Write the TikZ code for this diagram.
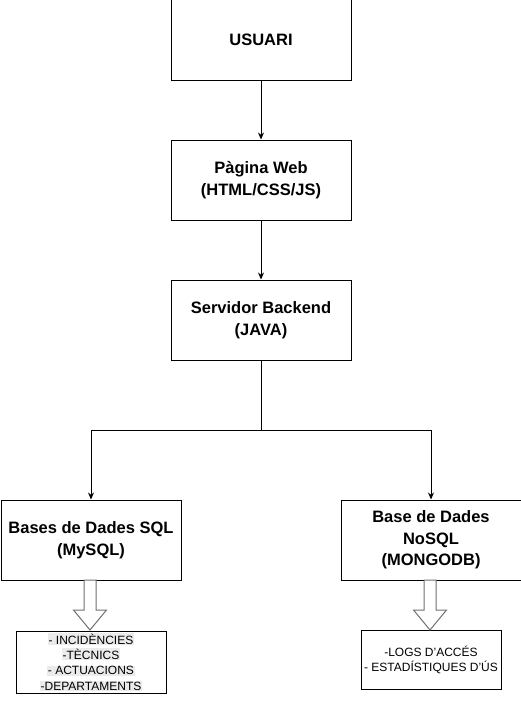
\documentclass[tikz,border=0pt]{standalone}
\usepackage{fontspec}
\setmainfont{Liberation Sans}
\usepackage{xcolor}
\usepackage{tikz}
\usetikzlibrary{arrows.meta}
\definecolor{hlgray}{HTML}{EBEBEB}
\definecolor{arrgray}{HTML}{707070}
\newcommand{\hl}[1]{{\setlength{\fboxsep}{0.6pt}\colorbox{hlgray}{#1}}}

\begin{document}
\begin{tikzpicture}[x=1pt,y=-1pt,line width=1pt,
  box/.style={draw,rectangle,inner sep=0,minimum width=180,minimum height=80,
    align=center,font=\bfseries\fontsize{16.5}{21.5}\selectfont},
  listbox/.style={draw,rectangle,inner sep=0,align=center,
    font=\fontsize{12}{15.3}\selectfont},
  flow/.style={-{Stealth[length=7pt,width=6pt]}},
  bigarrow/.style={draw=arrgray,fill=white,line width=1pt,line join=miter}]
	\useasboundingbox (0,0) rectangle (521,701);
	\node[box] (usuari) at (261,40) {USUARI};
	\node[box] (web) at (261,180) {Pàgina Web\\(HTML/CSS/JS)};
	\node[box] (server) at (261,320) {Servidor Backend\\(JAVA)};
	\node[box] (sql) at (91,540) {Bases de Dades SQL\\(MySQL)};
	\node[box] (nosql) at (431,540) {Base de Dades\\NoSQL\\(MONGODB)};
	\node[listbox,minimum width=150,minimum height=62] (sqllist) at (91,662)
	  {\hl{- INCIDÈNCIES}\\\hl{-TÈCNICS}\\\hl{- ACTUACIONS}\\\hl{-DEPARTAMENTS}};
	\node[listbox,minimum width=140,minimum height=59] (nosqllist) at (431,660)
	  {-LOGS D'ACCÉS\\- ESTADÍSTIQUES D'ÚS};

  \path[flow]
        (usuari) edge (web)
        (web) edge (server);
  \draw[flow] (server.south) -- ++(0,70) -| (sql.north);
  \draw[flow] (server.south) -- ++(0,70) -| (nosql.north);

  % hollow arrows to the table lists
  \draw[bigarrow] (84,580) -- (96,580) -- (96,610) -- (106.5,610) -- (90,630)
        -- (73.5,610) -- (84,610) -- cycle;
  \draw[bigarrow] (424,580) -- (436,580) -- (436,610) -- (446.5,610) -- (430,630)
        -- (413.5,610) -- (424,610) -- cycle;
\end{tikzpicture}
\end{document}
